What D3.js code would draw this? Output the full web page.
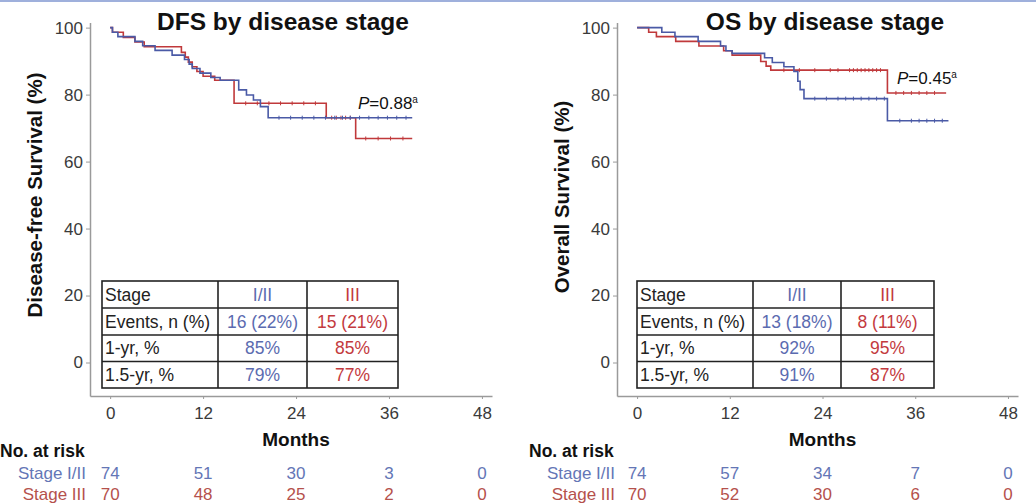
<!DOCTYPE html>
<html><head><meta charset="utf-8">
<script src="https://cdn.jsdelivr.net/npm/d3@7"></script>
<style>html,body{margin:0;padding:0;background:#fff;}svg{display:block;font-family:"Liberation Sans",Arial,sans-serif;}</style>
</head><body>
<svg id="c" width="1036" height="503"></svg>
<script>
// ---- data ----
const monthTicks = [0, 12, 24, 36, 48];
const survTicks = [0, 20, 40, 60, 80, 100];
const groups = ["Stage I/II", "Stage III"];

// DFS Kaplan-Meier steps [month, survival %]
const dfsI = [[0,100],[0.3,98.6],[1.0,97.3],[3.2,95.9],[4.2,94.6],[5.8,93.2],[8.0,91.8],[9.6,90.5],[10.2,89.1],[10.6,87.8],[11.6,86.4],[13.0,85.1],[14.2,84.3],[16.6,81.4],[17.6,79.9],[18.5,78.4],[19.4,76.4],[20.4,73.1]];
const dfsIII = [[0,100],[0.3,98.6],[1.7,97.1],[3.2,95.7],[4.4,94.3],[9.2,92.6],[9.7,91.2],[10.1,89.7],[10.6,88.3],[11.2,86.9],[12.0,85.5],[13.5,84.3],[16.0,77.4],[27.9,73.1],[31.7,66.9]];
const dfsEnd = [39.0, 39.0];
const dfsCensI = [21.8,23.3,24.8,26.3,27.8,29.0,30.0,31.0,32.2,33.4,34.6,35.8,37.0,38.2];
const dfsCensIII = [17.5,19.0,20.5,22.0,23.5,25.0,26.5,28.6,29.2,29.8,30.4,31.0,33.0,34.6,36.2,37.8];

// OS Kaplan-Meier steps
const osI = [[0,100],[3.2,98.6],[4.9,97.3],[7.9,95.9],[10.8,94.5],[11.5,93.1],[12.3,92.3],[16.5,91.0],[17.5,89.6],[19.0,88.3],[20.3,86.9],[20.8,84.0],[21.1,81.5],[21.6,78.8],[32.4,72.2]];
const osIII = [[0,100],[1.5,98.6],[2.5,97.3],[5.0,95.9],[8.0,94.5],[11.2,93.1],[12.3,91.8],[16.0,89.9],[16.7,88.5],[17.3,87.3],[32.4,80.5]];
const osEnd = [40.3, 40.0];
const osCensI = [23.0,24.5,26.0,27.0,28.0,29.0,30.0,31.0,32.0,34.0,35.5,36.5,37.5,38.5,39.5];
const osCensIII = [19.0,21.0,23.0,25.0,26.0,27.5,28.0,28.5,29.0,29.5,30.0,30.5,31.0,31.5,33.5,34.5,35.5,36.5,37.5,38.5];

// numbers at risk
const dfsRiskI = [74, 51, 30, 3, 0];
const dfsRiskIII = [70, 48, 25, 2, 0];
const osRiskI = [74, 57, 34, 7, 0];
const osRiskIII = [70, 52, 30, 6, 0];

// summary tables
const tableRowLabels = ["Stage", "Events, n (%)", "1-yr, %", "1.5-yr, %"];
const dfsTableI = ["I/II", "16 (22%)", "85%", "79%"];
const dfsTableIII = ["III", "15 (21%)", "85%", "77%"];
const osTableI = ["I/II", "13 (18%)", "92%", "91%"];
const osTableIII = ["III", "8 (11%)", "95%", "87%"];

// ---- drawing ----
const BLUE = "#4a5aa6", RED = "#c0393b";
const BLUE_T = "#5b6bb0", RED_T = "#c33a3e";
const svg = d3.select("#c");

svg.append("line").attr("x1",0).attr("x2",1036).attr("y1",1).attr("y2",1)
  .attr("stroke","#9fb0dc").attr("stroke-width",2);

function panel(o) {
  const g = svg.append("g");
  const x = d3.scaleLinear().domain([-2.6, 49.3]).range([o.x0, o.x1]);
  const y = d3.scaleLinear().domain([-10, 101.5]).range([396, 22.6]);

  // axes
  const ya = g.append("g").attr("transform", `translate(${o.x0},0)`)
    .call(d3.axisLeft(y).tickValues(survTicks).tickSize(4).tickSizeOuter(0).tickPadding(3));
  const xa = g.append("g").attr("transform", `translate(0,396)`)
    .call(d3.axisBottom(x).tickValues(monthTicks).tickSize(3).tickSizeOuter(0).tickPadding(8));
  [ya, xa].forEach(a => {
    a.select(".domain").attr("stroke", "#9a9a9a").attr("stroke-width", 1.5);
    a.selectAll(".tick line").attr("stroke", "#9a9a9a");
    a.selectAll(".tick text").attr("fill", "#3a3a3a").style("font-size", "17px");
  });

  // titles
  g.append("text").attr("x", o.titleX).attr("y", 30).attr("text-anchor", "middle")
    .style("font-size", "24.5px").style("font-weight", "bold").attr("fill", "#111").text(o.title);
  g.append("text").attr("transform", `translate(${o.ytX},${o.ytY}) rotate(-90)`)
    .attr("text-anchor", "middle").attr("dominant-baseline", "middle")
    .style("font-size", "20.5px").style("font-weight", "bold").attr("fill", "#111").text(o.ytitle);
  g.append("text").attr("x", x(24)).attr("y", 446).attr("text-anchor", "middle")
    .style("font-size", "19px").style("font-weight", "bold").attr("fill", "#111").text("Months");

  // curves
  const line = d3.line().x(d => x(d[0])).y(d => y(d[1])).curve(d3.curveStepAfter);
  [[o.s2, o.end[1], RED, o.c2], [o.s1, o.end[0], BLUE, o.c1]].forEach(([s, e, col, cens]) => {
    const pts = s.concat([[e, s[s.length - 1][1]]]);
    g.append("path").attr("d", line(pts)).attr("fill", "none").attr("stroke", col).attr("stroke-width", 1.6);
    const survAt = t => { let v = 100; s.forEach(p => { if (p[0] <= t) v = p[1]; }); return v; };
    g.selectAll(null).data(cens).enter().append("line")
      .attr("x1", d => x(d)).attr("x2", d => x(d))
      .attr("y1", d => y(survAt(d)) - 2).attr("y2", d => y(survAt(d)) + 2)
      .attr("stroke", col).attr("stroke-width", 1);
  });

  // p value
  const pt = g.append("text").attr("x", o.pX).attr("y", o.pY).style("font-size", "17px").attr("fill", "#111");
  pt.append("tspan").style("font-style", "italic").text("P");
  pt.append("tspan").text("=" + o.p);
  pt.append("tspan").attr("dy", -6).style("font-size", "10px").text("a");

  // table
  const cols = o.cols, rows = [281, 308, 335, 361.5, 388];
  const tg = g.append("g");
  tg.append("rect").attr("x", cols[0]).attr("y", rows[0]).attr("width", cols[3] - cols[0]).attr("height", rows[4] - rows[0])
    .attr("fill", "#fff").attr("stroke", "#222").attr("stroke-width", 1.6);
  [cols[1], cols[2]].forEach(cx => tg.append("line").attr("x1", cx).attr("x2", cx).attr("y1", rows[0]).attr("y2", rows[4]).attr("stroke", "#222").attr("stroke-width", 1.6));
  rows.slice(1, 4).forEach(ry => tg.append("line").attr("x1", cols[0]).attr("x2", cols[3]).attr("y1", ry).attr("y2", ry).attr("stroke", "#222").attr("stroke-width", 1.6));
  tableRowLabels.forEach((lab, i) => {
    const cy = (rows[i] + rows[i + 1]) / 2 + 6;
    tg.append("text").attr("x", cols[0] + 3).attr("y", cy).style("font-size", "17.5px").attr("fill", "#222").text(lab);
    tg.append("text").attr("x", (cols[1] + cols[2]) / 2).attr("y", cy).attr("text-anchor", "middle")
      .style("font-size", "17.5px").attr("fill", BLUE_T).text(o.t1[i]);
    tg.append("text").attr("x", (cols[2] + cols[3]) / 2).attr("y", cy).attr("text-anchor", "middle")
      .style("font-size", "17.5px").attr("fill", RED_T).text(o.t2[i]);
  });

  // numbers at risk
  g.append("text").attr("x", o.riskLabelX - 86).attr("y", 457).style("font-size", "17.5px").style("font-weight", "bold")
    .attr("fill", "#111").text("No. at risk");
  [[o.r1, 479, "#6476b6", groups[0]], [o.r2, 500, "#b5514c", groups[1]]].forEach(([r, ry, col, lab]) => {
    g.append("text").attr("x", o.riskLabelX).attr("y", ry).attr("text-anchor", "end")
      .style("font-size", "17px").attr("fill", col).text(lab);
    g.selectAll(null).data(r).enter().append("text")
      .attr("x", (d, i) => x(monthTicks[i])).attr("y", ry).attr("text-anchor", "middle")
      .style("font-size", "17px").attr("fill", col).text(d => d);
  });
}

panel({x0: 90, x1: 492, title: "DFS by disease stage", titleX: 283, ytitle: "Disease-free Survival (%)", ytX: 37, ytY: 195,
  s1: dfsI, s2: dfsIII, end: dfsEnd, c1: dfsCensI, c2: dfsCensIII, p: "0.88", pX: 358, pY: 109,
  cols: [102, 218, 307, 398], t1: dfsTableI, t2: dfsTableIII, r1: dfsRiskI, r2: dfsRiskIII, riskLabelX: 86});
panel({x0: 617, x1: 1018, title: "OS by disease stage", titleX: 825, ytitle: "Overall Survival (%)", ytX: 564, ytY: 197,
  s1: osI, s2: osIII, end: osEnd, c1: osCensI, c2: osCensIII, p: "0.45", pX: 897, pY: 84,
  cols: [637, 753, 841, 934], t1: osTableI, t2: osTableIII, r1: osRiskI, r2: osRiskIII, riskLabelX: 615});
</script>
</body></html>
